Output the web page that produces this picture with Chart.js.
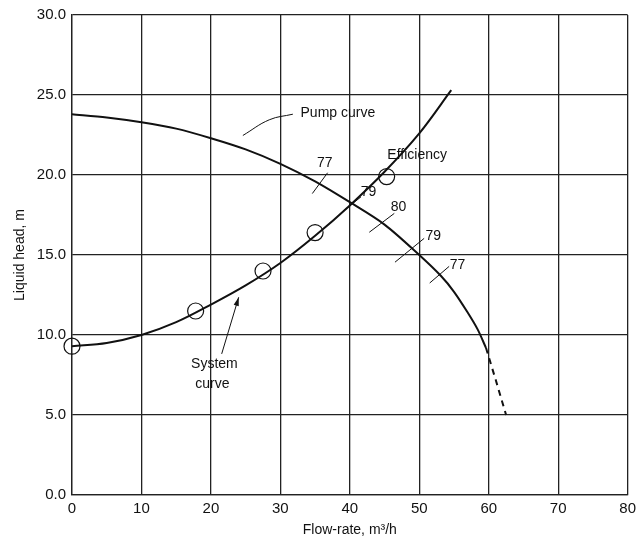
<!DOCTYPE html>
<html>
<head>
<meta charset="utf-8">
<script src="https://cdn.jsdelivr.net/npm/chart.js@4"></script>
<style>
  body { margin: 0; background: #fff; }
  #wrap { width: 641px; height: 547px; }
</style>
</head>
<body>
<div id="wrap"><canvas id="myChart" width="641" height="547"></canvas></div>
<script>
// pump curve
var pumpQ = [0, 5, 10, 15, 20, 25, 30, 35, 40, 45, 50, 53.1, 55, 56.9, 58.4, 59.6];
var pumpH = [23.8, 23.6, 23.3, 22.9, 22.3, 21.6, 20.7, 19.6, 18.3, 16.9, 15.0, 13.7, 12.7, 11.45, 10.35, 9.2];
// extrapolated (dashed) part
var dashQ = [59.6, 61, 62.5];
var dashH = [9.2, 7.2, 5.0];

// system curve
var sysQ = [0, 5, 10, 15, 20, 25, 30, 35, 40, 45, 50, 54.6];
var sysH = [9.3, 9.5, 10.0, 10.8, 11.9, 13.1, 14.5, 16.2, 18.1, 20.2, 22.6, 25.3];

// measured points (circles)
var ptQ = [0, 17.8, 27.5, 35, 45.3];
var ptH = [9.3, 11.5, 14.0, 16.4, 19.9];

// efficiency marks on the pump curve
var effLabels = ['77', '79', '80', '79', '77'];
var effQ1 = [34.6, 38.9, 42.8, 46.5, 51.5];
var effH1 = [18.84, 17.7, 16.42, 14.55, 13.25];
var effQ2 = [36.8, 41.6, 46.4, 50.7, 54.3];
var effH2 = [20.14, 18.63, 17.6, 16.04, 14.29];
var effTxtQ = [36.4, 42.7, 47.0, 52.0, 55.5];
var effTxtH = [20.75, 18.95, 18.0, 16.2, 14.35];

var xTicks = [0, 10, 20, 30, 40, 50, 60, 70, 80];
var yTicks = [0, 5, 10, 15, 20, 25, 30];

function pts(xs, ys) {
  return xs.map(function (x, i) { return { x: x, y: ys[i] }; });
}

var ink = '#111';
var font = '"Liberation Sans", Arial, sans-serif';

var datasets = [
  { data: pts(pumpQ, pumpH), borderColor: ink, borderWidth: 2, pointRadius: 0, showLine: true, tension: 0.3 },
  { data: pts(dashQ, dashH), borderColor: ink, borderWidth: 2, borderDash: [6, 5], pointRadius: 0, showLine: true, tension: 0 },
  { data: pts(sysQ, sysH), borderColor: ink, borderWidth: 2, pointRadius: 0, showLine: true, tension: 0.35 },
  { data: pts(ptQ, ptH), borderColor: ink, borderWidth: 1.2, backgroundColor: 'rgba(0,0,0,0)', pointRadius: 8, pointStyle: 'circle', showLine: false, clip: false },
  // leader line for "Pump curve"
  { data: pts([24.6, 28.4, 31.8], [22.47, 23.45, 23.8]), borderColor: ink, borderWidth: 1, pointRadius: 0, showLine: true, tension: 0.4 },
  // arrow shaft for "System curve"
  { data: pts([21.55, 24.0], [8.82, 12.36]), borderColor: ink, borderWidth: 1, pointRadius: 0, showLine: true }
];
for (var i = 0; i < effLabels.length; i++) {
  datasets.push({ data: pts([effQ1[i], effQ2[i]], [effH1[i], effH2[i]]), borderColor: ink, borderWidth: 1, pointRadius: 0, showLine: true });
}

var notes = {
  id: 'notes',
  afterDatasetsDraw: function (chart) {
    var c = chart.ctx, xs = chart.scales.x, ys = chart.scales.y;
    function px(q) { return xs.getPixelForValue(q); }
    function py(h) { return ys.getPixelForValue(h); }
    c.save();
    c.fillStyle = ink;
    c.font = '14px ' + font;
    c.textBaseline = 'middle';
    c.textAlign = 'center';
    for (var i = 0; i < effLabels.length; i++) {
      c.fillText(effLabels[i], px(effTxtQ[i]), py(effTxtH[i]));
    }
    c.textAlign = 'left';
    c.fillText('Pump curve', px(32.9), py(23.87));
    c.fillText('Efficiency', px(45.4), py(21.24));
    c.textAlign = 'center';
    c.fillText('System', px(20.5), py(8.2));
    c.fillText('curve', px(20.2), py(6.95));
    // arrow head
    var x1 = px(21.55), y1 = py(8.82), x2 = px(24.0), y2 = py(12.36);
    var a = Math.atan2(y2 - y1, x2 - x1);
    c.beginPath();
    c.moveTo(x2, y2);
    c.lineTo(x2 - 9 * Math.cos(a - 0.3), y2 - 9 * Math.sin(a - 0.3));
    c.lineTo(x2 - 9 * Math.cos(a + 0.3), y2 - 9 * Math.sin(a + 0.3));
    c.closePath();
    c.fill();
    c.restore();
  }
};

var ctx = document.getElementById('myChart').getContext('2d');
var myChart = new Chart(ctx, {
  type: 'scatter',
  data: { datasets: datasets },
  plugins: [notes],
  options: {
    responsive: false,
    animation: false,
    layout: { padding: { top: 12, right: 12, left: 8, bottom: 0 } },
    plugins: { legend: { display: false }, tooltip: { enabled: false } },
    scales: {
      x: {
        type: 'linear', min: 0, max: 80,
        afterBuildTicks: function (s) { s.ticks = xTicks.map(function (v) { return { value: v }; }); },
        afterFit: function (s) { s.height = 52; },
        grid: { color: '#222', lineWidth: 1.3, drawTicks: false },
        border: { color: '#222', width: 1.3 },
        ticks: { color: ink, font: { family: font, size: 15 }, padding: 5 },
        title: { display: true, text: 'Flow-rate, m³/h', color: ink, font: { family: font, size: 14 }, padding: { top: 0, bottom: 8 } }
      },
      y: {
        type: 'linear', min: 0, max: 30,
        afterBuildTicks: function (s) { s.ticks = yTicks.map(function (v) { return { value: v }; }); },
        afterFit: function (s) { s.width = 64; },
        grid: { color: '#222', lineWidth: 1.3, drawTicks: false },
        border: { color: '#222', width: 1.3 },
        ticks: { color: ink, font: { family: font, size: 15 }, padding: 6, callback: function (v) { return Number(v).toFixed(1); } },
        title: { display: true, text: 'Liquid head, m', color: ink, font: { family: font, size: 14 }, padding: { bottom: 4 } }
      }
    }
  }
});
</script>
</body>
</html>
